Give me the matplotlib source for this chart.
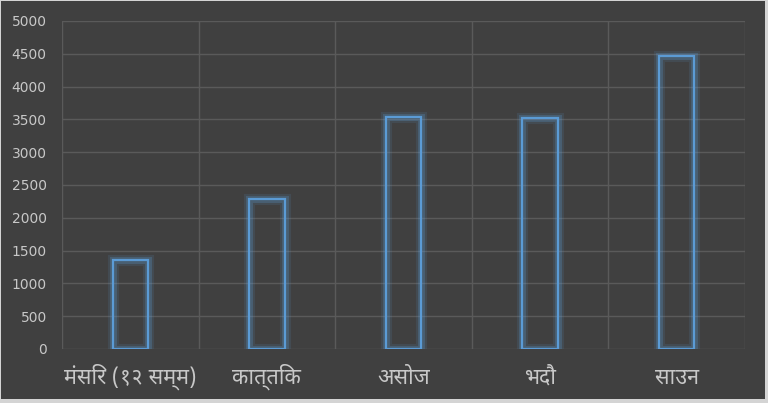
import matplotlib
matplotlib.use("Agg")
import matplotlib.pyplot as plt
import matplotlib.patheffects as pe
from matplotlib.patches import Rectangle
from matplotlib import font_manager
from matplotlib.ft2font import FT2Font

months = ["मंसिर (१२ सम्म)", "कात्तिक", "असोज", "भदौ", "साउन"]
values = [1360, 2290, 3540, 3520, 4470]
yticks = [0, 500, 1000, 1500, 2000, 2500, 3000, 3500, 4000, 4500, 5000]

BG = "#404040"
GRID = "#5a5a5a"
TEXT = "#c8c8c8"
BAR = "#5b9bd5"


def devanagari_font():
    # look for any installed font that has Devanagari glyphs, prefer Noto
    found = []
    for f in font_manager.fontManager.ttflist:
        try:
            if 0x0915 in FT2Font(f.fname).get_charmap():
                found.append(f.name)
        except Exception:
            continue
    for name in found:
        if "Noto" in name and "Devanagari" in name:
            return name
    return found[0] if found else None


deva = devanagari_font()
label_family = [deva, "DejaVu Sans"] if deva else ["DejaVu Sans"]

fig = plt.figure(figsize=(7.68, 4.03), dpi=100)
fig.patch.set_facecolor("#d4d4d4")
fig.patches.append(Rectangle((1 / 768, 4 / 403), 764 / 768, 398 / 403,
                             transform=fig.transFigure, facecolor=BG,
                             edgecolor="none", zorder=-5))

ax = fig.add_axes([62 / 768, 1 - 349 / 403, 683 / 768, 328 / 403])
ax.set_facecolor(BG)

x = list(range(len(months)))
glow = [pe.Stroke(linewidth=8, foreground=BAR, alpha=0.12),
        pe.Stroke(linewidth=5, foreground=BAR, alpha=0.25),
        pe.Normal()]
bars = ax.bar(x, values, width=0.26, facecolor="none", edgecolor=BAR,
              linewidth=1.6, zorder=3)
for b in bars:
    b.set_path_effects(glow)

ax.set_xlim(-0.5, len(months) - 0.5)
ax.set_ylim(0, 5000)
ax.set_yticks(yticks)
ax.set_yticklabels([str(v) for v in yticks])
ax.set_xticks(x)
ax.set_xticklabels(months, family=label_family, fontsize=15.5)
ax.set_xticks([i - 0.5 for i in range(len(months) + 1)], minor=True)
# put all month names on one baseline
for lbl in ax.get_xticklabels():
    lbl.set_verticalalignment("baseline")

ax.grid(axis="y", which="major", color=GRID, linewidth=1)
ax.grid(axis="x", which="minor", color=GRID, linewidth=1)
ax.set_axisbelow(True)

for s in ax.spines.values():
    s.set_visible(False)
ax.tick_params(which="both", length=0)
ax.tick_params(axis="y", colors=TEXT, labelsize=10, pad=11)
ax.tick_params(axis="x", colors=TEXT, pad=25)

fig.savefig("out.png", dpi=100, facecolor=fig.get_facecolor())
